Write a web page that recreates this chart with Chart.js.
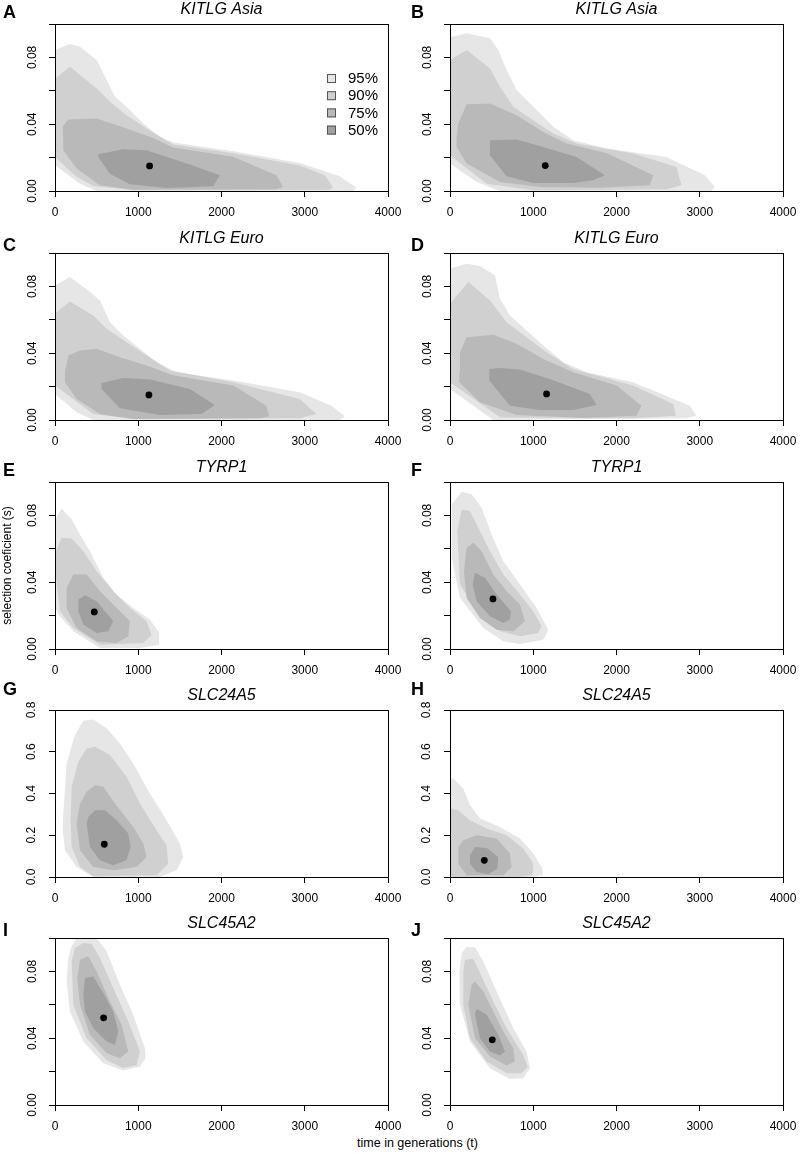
<!DOCTYPE html>
<html>
<head>
<meta charset="utf-8">
<title>Selection coefficient vs time contours</title>
<script src="https://cdn.jsdelivr.net/npm/chart.js@4.4.1/dist/chart.umd.min.js"></script>
<style>
  body { margin: 0; background: #fff; overflow: hidden; }
  #page { position: relative; width: 800px; height: 1163px; overflow: hidden; background: #fff; }
  .panel { position: absolute; width: 443px; height: 234px; }
  #xlab { position: absolute; left: 0; width: 835px; top: 1135px; text-align: center;
          font: 12.5px 'Liberation Sans', Arial, sans-serif; line-height: 16px; color: #000; }
</style>
</head>
<body>
<div id="page">
  <div id="xlab">time in generations (t)</div>
</div>
<script>
// === Datos ===
const panelLetters = ['A', 'B', 'C', 'D', 'E', 'F', 'G', 'H', 'I', 'J'];
const panelTitles = ['KITLG Asia', 'KITLG Asia', 'KITLG Euro', 'KITLG Euro', 'TYRP1', 'TYRP1',
                     'SLC24A5', 'SLC24A5', 'SLC45A2', 'SLC45A2'];
const levels = ['95%', '90%', '75%', '50%'];

const xTickLabels = ['0', '1000', '2000', '3000', '4000'];
const yTickLabelsSmall = ['0.00', '', '0.04', '', '0.08', ''];
const yTickLabelsLarge = ['0.0', '0.2', '0.4', '0.6', '0.8'];

// max-likelihood point (t, s)
const mleT = [1136, 1144, 1128, 1160, 472, 516, 592, 412, 584, 508];
const mleS = [0.015, 0.0152, 0.015, 0.0156, 0.0222, 0.03, 0.157, 0.08, 0.0522, 0.039];

// contours [t, s]
const A95 = [[0,0.0844],[180,0.088],[300,0.0864],[500,0.0784],[620,0.0664],[720,0.0564],[860,0.0504],[1060,0.0404],[1260,0.0324],[1420,0.029],[2140,0.0238],[2940,0.0168],[3420,0.0088],[3620,0.002],[3580,0],[500,0],[300,0.0044],[140,0.0104],[0,0.0154]];
const A90 = [[0,0.0674],[180,0.0744],[500,0.0614],[660,0.0534],[860,0.0454],[1100,0.0374],[1420,0.0278],[2140,0.0226],[2940,0.0152],[3240,0.0094],[3340,0.0024],[3300,0.0008],[940,0.0004],[460,0.003],[260,0.0084],[0,0.0204]];
const A75 = [[100,0.0284],[92,0.0384],[160,0.0428],[500,0.0434],[860,0.0374],[1180,0.0318],[1420,0.026],[2140,0.0205],[2660,0.0094],[2740,0.0024],[2660,0.001],[940,0.0008],[540,0.0034],[260,0.0134],[100,0.0244]];
const A50 = [[520,0.022],[820,0.025],[1100,0.0244],[1620,0.0158],[1980,0.0094],[1900,0.0028],[1340,0.0018],[900,0.004],[660,0.0104],[520,0.0204]];

const B95 = [[0,0.092],[200,0.0944],[480,0.0914],[580,0.0844],[680,0.0724],[800,0.0604],[1000,0.0504],[1240,0.0384],[1480,0.0304],[1880,0.0254],[2600,0.0204],[3060,0.0094],[3180,0.0024],[3140,0],[600,0],[320,0.0054],[0,0.0164]];
const B90 = [[0,0.0784],[200,0.0844],[480,0.0734],[600,0.0624],[760,0.0504],[1000,0.0424],[1240,0.0344],[1520,0.0284],[2200,0.0224],[2720,0.0144],[2780,0.0034],[2600,0.001],[1000,0.0004],[440,0.0044],[0,0.0214]];
const B75 = [[80,0.0324],[100,0.0404],[200,0.052],[480,0.0524],[800,0.0454],[1120,0.0354],[1400,0.0284],[1880,0.0228],[2440,0.0094],[2400,0.0034],[1800,0.002],[1080,0.0024],[600,0.0054],[200,0.0164],[80,0.0264]];
const B50 = [[480,0.0304],[800,0.0308],[1120,0.0264],[1520,0.0204],[1860,0.0094],[1720,0.0064],[1480,0.0048],[1000,0.0048],[680,0.0088],[480,0.0214]];

const C95 = [[0,0.0806],[180,0.0856],[400,0.0776],[540,0.0716],[660,0.0586],[820,0.0506],[1020,0.0426],[1220,0.0346],[1460,0.0286],[2140,0.0236],[2940,0.0166],[3320,0.0086],[3480,0.0022],[3420,0],[460,0],[260,0.0046],[0,0.0156]];
const C90 = [[0,0.0636],[180,0.071],[460,0.0626],[620,0.0546],[860,0.0466],[1100,0.0386],[1380,0.0296],[2140,0.0226],[2940,0.0126],[3140,0.0036],[2940,0.001],[940,0.0006],[460,0.0036],[0,0.0206]];
const C75 = [[120,0.0286],[160,0.0386],[300,0.0416],[500,0.0426],[780,0.0376],[1100,0.0326],[1420,0.0268],[2140,0.0206],[2540,0.0086],[2572,0.0022],[2460,0.001],[940,0.0006],[540,0.0036],[260,0.0126],[120,0.0226]];
const C50 = [[560,0.0222],[820,0.0252],[1140,0.0242],[1620,0.0186],[1920,0.009],[1760,0.0036],[1260,0.003],[780,0.007],[560,0.0186]];

const D95 = [[0,0.0906],[200,0.0936],[360,0.0922],[540,0.0866],[600,0.0726],[720,0.0626],[920,0.0536],[1120,0.0446],[1360,0.0346],[1640,0.0286],[2200,0.0226],[2880,0.0086],[2960,0.0026],[2840,0.001],[520,0],[0,0.0186]];
const D90 = [[0,0.0696],[220,0.0826],[480,0.0716],[680,0.0586],[920,0.0496],[1160,0.0406],[1480,0.0306],[2200,0.0206],[2680,0.0096],[2712,0.0026],[2200,0.001],[600,0.0016],[0,0.0226]];
const D75 = [[112,0.0286],[120,0.0406],[200,0.0496],[520,0.051],[800,0.0456],[1120,0.0366],[1480,0.0286],[2000,0.0206],[2300,0.0086],[2240,0.0026],[1600,0.0012],[800,0.003],[360,0.0106],[112,0.0226]];
const D50 = [[472,0.0306],[600,0.0312],[840,0.0302],[1200,0.0246],[1680,0.0156],[1760,0.009],[1480,0.006],[1080,0.006],[720,0.0086],[472,0.0236]];

const E95 = [[0,0.0776],[80,0.0842],[200,0.0776],[300,0.0686],[420,0.0586],[580,0.0426],[740,0.0326],[940,0.0246],[1140,0.0176],[1252,0.0096],[1252,0.0026],[1020,0.0006],[540,0.0006],[220,0.0106],[40,0.0206],[0,0.0256]];
const E90 = [[12,0.0586],[80,0.0666],[200,0.0662],[340,0.0586],[500,0.0466],[700,0.0346],[900,0.0246],[1100,0.0166],[1160,0.0086],[1060,0.0036],[540,0.0026],[220,0.0126],[60,0.0226],[12,0.0426]];
const E75 = [[140,0.0366],[220,0.0446],[380,0.0446],[540,0.0346],[740,0.0246],[900,0.0166],[880,0.0076],[740,0.0036],[500,0.0046],[260,0.0126],[140,0.0246]];
const E50 = [[280,0.0296],[360,0.0322],[500,0.0286],[700,0.0166],[640,0.0106],[500,0.0096],[340,0.0146],[280,0.0226]];

const F95 = [[20,0.0866],[140,0.0942],[260,0.0926],[380,0.0846],[500,0.0686],[640,0.0526],[840,0.0386],[1040,0.0246],[1180,0.0116],[1120,0.0056],[840,0.003],[640,0.0046],[400,0.0126],[120,0.0306],[20,0.0546]];
const F90 = [[88,0.0706],[140,0.0836],[240,0.0826],[360,0.0706],[480,0.0586],[640,0.0446],[840,0.0326],[1000,0.0226],[1100,0.0136],[1060,0.0096],[840,0.0076],[600,0.0106],[320,0.0226],[120,0.0386]];
const F75 = [[168,0.0466],[200,0.0606],[280,0.0636],[380,0.0586],[520,0.0446],[680,0.0346],[840,0.0266],[900,0.0166],[760,0.0106],[560,0.0116],[360,0.0186],[200,0.0306]];
const F50 = [[272,0.0386],[300,0.0456],[420,0.0426],[560,0.0326],[732,0.0226],[720,0.0176],[640,0.0156],[480,0.0196],[320,0.0286]];

const G95 = [[100,0.304],[140,0.544],[240,0.68],[340,0.749],[460,0.755],[620,0.712],[780,0.64],[940,0.544],[1140,0.4],[1340,0.272],[1500,0.16],[1540,0.096],[1460,0.032],[1260,0],[460,0],[260,0.048],[120,0.128],[92,0.224]];
const G90 = [[188,0.272],[200,0.432],[280,0.552],[380,0.616],[480,0.624],[660,0.584],[860,0.48],[1020,0.352],[1220,0.224],[1340,0.152],[1360,0.064],[1220,0.008],[460,0.003],[300,0.048],[200,0.144]];
const G75 = [[260,0.256],[300,0.352],[380,0.408],[480,0.44],[580,0.432],[720,0.352],[940,0.24],[1060,0.16],[1100,0.096],[980,0.048],[700,0.032],[460,0.048],[300,0.128]];
const G50 = [[380,0.256],[400,0.288],[480,0.32],[600,0.32],[740,0.272],[880,0.208],[908,0.144],[860,0.08],[700,0.056],[540,0.08],[420,0.144]];

const H95 = [[0,0.472],[40,0.472],[160,0.424],[240,0.344],[360,0.28],[600,0.24],[840,0.184],[1000,0.112],[1100,0.048],[1120,0.008],[1000,0],[0,0]];
const H90 = [[0,0.328],[100,0.32],[240,0.272],[440,0.232],[680,0.2],[880,0.136],[1000,0.064],[992,0.008],[800,0],[0,0]];
const H75 = [[100,0.144],[160,0.176],[320,0.2],[560,0.184],[720,0.112],[740,0.048],[640,0.008],[200,0.008],[100,0.064]];
const H50 = [[240,0.104],[300,0.144],[440,0.139],[580,0.096],[568,0.04],[460,0.013],[320,0.024],[240,0.064]];

const I95 = [[160,0.088],[200,0.095],[260,0.1],[500,0.1],[620,0.092],[780,0.072],[940,0.054],[1080,0.034],[1088,0.028],[1020,0.023],[820,0.0206],[580,0.025],[340,0.038],[180,0.056],[140,0.074]];
const I90 = [[200,0.086],[240,0.094],[340,0.097],[440,0.0964],[540,0.088],[700,0.07],[880,0.05],[1020,0.032],[980,0.024],[820,0.022],[620,0.027],[380,0.04],[220,0.06]];
const I75 = [[268,0.076],[300,0.087],[400,0.089],[500,0.08],[660,0.062],[800,0.048],[880,0.032],[780,0.028],[620,0.031],[420,0.042],[300,0.06]];
const I50 = [[340,0.066],[360,0.076],[460,0.077],[580,0.067],[700,0.056],[760,0.044],[720,0.036],[620,0.038],[460,0.046],[360,0.056]];

const J95 = [[112,0.08],[140,0.091],[200,0.0946],[300,0.0944],[400,0.086],[560,0.068],[760,0.046],[920,0.032],[960,0.022],[880,0.016],[720,0.0156],[480,0.022],[240,0.038],[120,0.06]];
const J90 = [[160,0.08],[180,0.087],[280,0.0876],[380,0.077],[520,0.062],[680,0.046],[880,0.03],[932,0.023],[860,0.019],[680,0.019],[440,0.026],[240,0.04],[160,0.06]];
const J75 = [[220,0.06],[260,0.072],[300,0.074],[400,0.068],[520,0.056],[640,0.044],[760,0.034],[780,0.026],[680,0.0236],[480,0.029],[300,0.04]];
const J50 = [[300,0.054],[320,0.0576],[440,0.054],[580,0.042],[660,0.032],[600,0.0296],[480,0.032],[360,0.04]];

const contours = [
  [A95, A90, A75, A50], [B95, B90, B75, B50], [C95, C90, C75, C50], [D95, D90, D75, D50],
  [E95, E90, E75, E50], [F95, F90, F75, F50], [G95, G90, G75, G50], [H95, H90, H75, H50],
  [I95, I90, I75, I50], [J95, J90, J75, J50]
];

// === Estilo / layout ===
Chart.defaults.font.family = "'Liberation Sans', Arial, Helvetica, sans-serif";
Chart.defaults.color = "#000";

const levelFill = ['#e6e6e6', '#d0d0d0', '#b9b9b9', '#a0a0a0'];
const plotTops = [24, 253, 482, 710, 938];
const letterDrop = [-6, -2, -6, -15, -2];

// box, panel letter, legend
const framePlugin = {
  id: 'frame',
  afterDatasetsDraw(chart, args, opts) {
    const { ctx, chartArea: a } = chart;
    ctx.save();
    ctx.strokeStyle = '#000';
    ctx.lineWidth = 1;
    ctx.strokeRect(a.left + 0.5, a.top + 0.5, a.right - a.left, a.bottom - a.top);

    ctx.fillStyle = '#000';
    ctx.font = "bold 18px 'Liberation Sans', Arial, sans-serif";
    ctx.textBaseline = 'alphabetic';
    ctx.fillText(opts.letter, opts.letterX, a.top + opts.letterDrop);

    if (opts.legend) {
      ctx.font = "15px 'Liberation Sans', Arial, sans-serif";
      ctx.textBaseline = 'middle';
      chart.data.datasets.slice(0, 4).forEach((ds, k) => {
        const y = a.top + 54.5 + 17.2 * k;
        ctx.fillStyle = ds.backgroundColor;
        ctx.fillRect(a.left + 272, y - 4.5, 9, 9);
        ctx.strokeStyle = '#555';
        ctx.strokeRect(a.left + 272.5, y - 4, 8, 8);
        ctx.fillStyle = '#000';
        ctx.fillText(ds.label, a.left + 293, y + 0.5);
      });
    }
    ctx.restore();
  }
};

function contourSet(points, k) {
  return {
    label: levels[k],
    data: points.map(p => ({ x: p[0], y: p[1] })),
    showLine: true,
    fill: 'shape',
    backgroundColor: levelFill[k],
    borderColor: 'rgba(0,0,0,0)',
    borderWidth: 0,
    pointRadius: 0,
    order: 4 - k
  };
}

const page = document.getElementById('page');

panelLetters.forEach((letter, i) => {
  const row = Math.floor(i / 2);
  const col = i % 2;
  const large = row === 3;
  const yLabels = large ? yTickLabelsLarge : yTickLabelsSmall;

  const div = document.createElement('div');
  div.className = 'panel';
  div.style.left = (col === 0 ? 0 : 395) + 'px';
  div.style.top = (plotTops[row] - 30) + 'px';
  const canvas = document.createElement('canvas');
  div.appendChild(canvas);
  page.appendChild(div);

  const datasets = contours[i].map(contourSet);
  datasets.push({
    label: 'mle',
    data: [{ x: mleT[i], y: mleS[i] }],
    pointRadius: 3.4,
    backgroundColor: '#000',
    borderWidth: 0,
    order: 0
  });

  const axisGrid = { drawOnChartArea: false, drawTicks: true, tickLength: 6, color: '#000', lineWidth: 1 };

  new Chart(canvas, {
    type: 'scatter',
    data: { datasets },
    options: {
      responsive: true,
      maintainAspectRatio: false,
      animation: false,
      events: [],
      layout: { padding: { left: 0, right: 55, top: 6, bottom: 0 }, autoPadding: false },
      plugins: {
        legend: { display: false },
        tooltip: { enabled: false },
        title: {
          display: true,
          fullSize: false,
          text: panelTitles[i],
          color: '#000',
          font: { size: 16, style: 'italic', weight: 'normal', lineHeight: 1.2 },
          padding: { top: 0, bottom: 4.8 }
        },
        frame: {
          letter,
          letterX: col === 0 ? 3 : 16,
          letterDrop: letterDrop[row],
          legend: i === 0
        }
      },
      scales: {
        x: {
          type: 'linear',
          min: 0,
          max: 4000,
          afterFit: s => { s.height = 37; },
          ticks: {
            stepSize: 1000, autoSkip: false, maxRotation: 0, padding: 8,
            font: { size: 12 }, color: '#000',
            callback: (v, idx) => xTickLabels[idx]
          },
          grid: axisGrid,
          border: { display: false }
        },
        y: {
          min: 0,
          max: large ? 0.8 : 0.1,
          afterFit: s => { s.width = 55; },
          ticks: {
            stepSize: large ? 0.2 : 0.02, autoSkip: false,
            minRotation: 90, maxRotation: 90, crossAlign: 'center',
            padding: large ? 9 : 5,
            font: { size: 12 }, color: '#000',
            callback: (v, idx) => yLabels[idx]
          },
          grid: axisGrid,
          border: { display: false },
          title: {
            display: i === 4,
            text: 'selection coeficient (s)',
            color: '#000',
            font: { size: 12 },
            padding: { top: 0, bottom: 0 }
          }
        }
      }
    },
    plugins: [framePlugin]
  });
});
</script>
</body>
</html>
